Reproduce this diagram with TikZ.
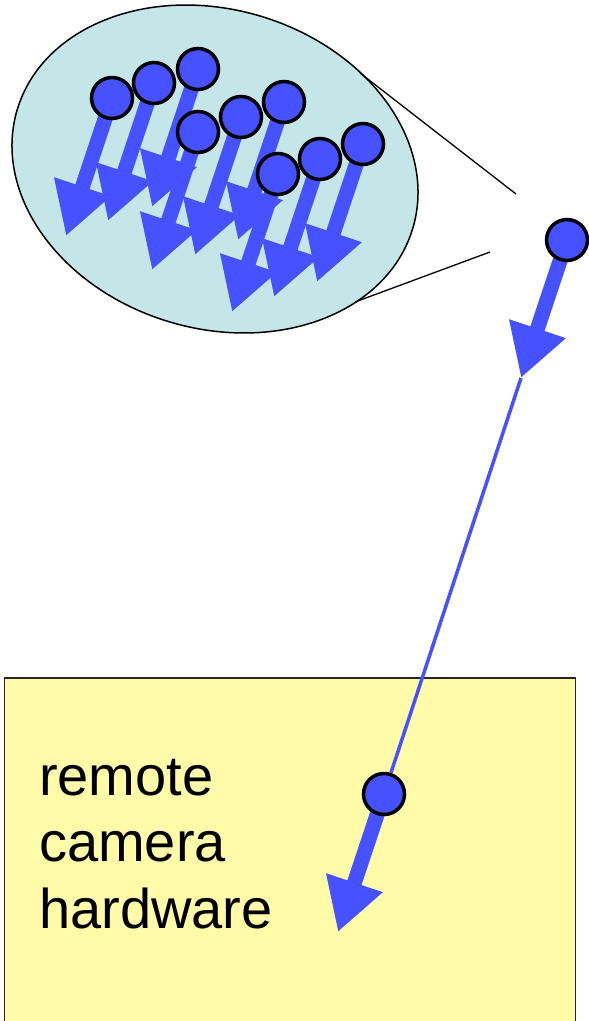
\documentclass[tikz,border=0pt]{standalone}
\usepackage{fontspec}
\setmainfont{Liberation Sans}
\usetikzlibrary{arrows.meta,shapes.geometric}
\definecolor{spinblue}{RGB}{70,82,255}
\definecolor{lensfill}{RGB}{197,230,232}
\definecolor{boxfill}{RGB}{255,251,169}
\tikzset{
  spin/.style={circle, draw=black, line width=3.5pt, fill=spinblue,
    minimum size=41pt, inner sep=0pt},
  moment/.style={draw=spinblue, line width=15pt,
    -{Triangle[length=52pt,width=56pt]}},
  wire/.style={draw=spinblue, line width=3.5pt},
  link/.style={draw=black, line width=1.3pt},
  lens/.style={ellipse, draw=black, line width=1.5pt, fill=lensfill,
    minimum width=413pt, minimum height=319pt, inner sep=0pt},
  hwbox/.style={draw=black!85, line width=1.5pt, fill=boxfill,
    minimum width=571pt, minimum height=380pt, inner sep=0pt, anchor=north west},
  hwlabel/.style={anchor=north west, align=left, inner sep=0pt,
    font=\fontsize{56}{66.5}\selectfont},
}
\begin{document}
\begin{tikzpicture}[x=1pt, y=-1pt]
  \useasboundingbox (0,0) rectangle (589,1021);
  \clip (0,0) rectangle (589,1021);

  % camera hardware box
  \node[hwbox] (camera) at (3.5,677) {};
  \node[hwlabel] (label) at (39,759) {remote\\camera\\hardware};

  % magnified view of the spin ensemble
  \node[lens, rotate=-16.8] (lens) at (215,169) {};
  \coordinate (lens-u) at (360,73);
  \coordinate (lens-l) at (355,302);
  \coordinate (focus-u) at (516,194);
  \coordinate (focus-l) at (490,252);
  \draw[link] (lens-u) -- (focus-u);
  \draw[link] (lens-l) -- (focus-l);

  % spins inside the lens: arrow first, then the ball on top
  \foreach \n/\x/\y in {a/112/98, b/154/83, c/198/69,
                        d/198/132, e/241/117, f/284/102,
                        g/278/174, h/320/159, i/363/144} {
    \coordinate (c-\n) at (\x,\y);
    \coordinate (tip-\n) at (\x-46,\y+138);
    \draw[moment] (c-\n) -- (tip-\n);
    \node[spin] (spin-\n) at (c-\n) {};
  }

  % single spin on the right
  \coordinate (c-r) at (567,240);
  \coordinate (tip-r) at (521,378);
  \draw[moment] (c-r) -- (tip-r);
  \node[spin] (spin-r) at (c-r) {};

  % spin inside the hardware box
  \coordinate (c-s) at (384,794);
  \coordinate (tip-s) at (338,932);
  \draw[moment] (c-s) -- (tip-s);
  \node[spin] (spin-s) at (c-s) {};

  % link between the two
  \draw[wire] (tip-r) -- (spin-s);
\end{tikzpicture}
\end{document}
